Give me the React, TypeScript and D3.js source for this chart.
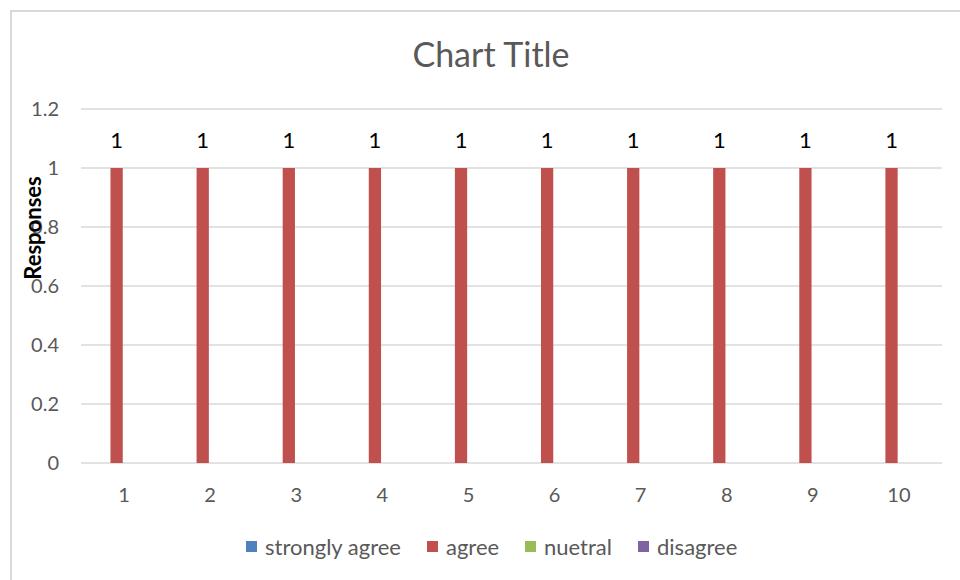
import { useRef, useEffect } from 'react';
import * as d3 from 'd3';

const categories = ['1', '2', '3', '4', '5', '6', '7', '8', '9', '10'];
const seriesNames = ['strongly agree', 'agree', 'nuetral', 'disagree'];
const seriesColors = ['#4f81bd', '#c0504d', '#9bbb59', '#8064a2'];
const stronglyAgree = [0, 0, 0, 0, 0, 0, 0, 0, 0, 0];
const agree = [1, 1, 1, 1, 1, 1, 1, 1, 1, 1];
const nuetral = [0, 0, 0, 0, 0, 0, 0, 0, 0, 0];
const disagree = [0, 0, 0, 0, 0, 0, 0, 0, 0, 0];
const yTicks = [0, 0.2, 0.4, 0.6, 0.8, 1, 1.2];

const FONT = 'Lato, "Open Sans", sans-serif';

function App() {
    const ref = useRef<SVGSVGElement>(null);

    useEffect(() => {
        const svg = d3.select(ref.current);
        svg.selectAll('*').remove();

        const values = [stronglyAgree, agree, nuetral, disagree];
        const left = 81, right = 942, top = 109, bottom = 463;

        // chart border
        svg.append('path')
            .attr('d', 'M11,585 L11,11 L965,11')
            .attr('fill', 'none')
            .attr('stroke', '#d9d9d9')
            .attr('stroke-width', 2);

        const x0 = d3.scaleBand().domain(categories).range([left, right]);
        const gap = x0.bandwidth() * 0.43;
        const x1 = d3.scaleBand<number>()
            .domain(d3.range(seriesNames.length))
            .range([gap / 2 - 1.3, x0.bandwidth() - gap / 2 - 1.3]);
        const y = d3.scaleLinear().domain([0, 1.2]).range([bottom, top]);

        // gridlines
        svg.append('g').selectAll('line')
            .data(yTicks)
            .enter().append('line')
            .attr('x1', left).attr('x2', right)
            .attr('y1', d => y(d)).attr('y2', d => y(d))
            .attr('stroke', '#d9d9d9')
            .attr('stroke-width', 1.3);

        // y tick labels
        svg.append('g').selectAll('text')
            .data(yTicks)
            .enter().append('text')
            .attr('x', 59)
            .attr('y', d => y(d))
            .attr('dy', '0.35em')
            .attr('text-anchor', 'end')
            .attr('font-family', FONT)
            .attr('font-size', 20)
            .attr('fill', '#595959')
            .text(d => d3.format('')(d));

        // x tick labels
        svg.append('g').selectAll('text')
            .data(categories)
            .enter().append('text')
            .attr('x', d => x0(d)! + x0.bandwidth() / 2)
            .attr('y', 502)
            .attr('text-anchor', 'middle')
            .attr('font-family', FONT)
            .attr('font-size', 20)
            .attr('fill', '#595959')
            .text(d => d);

        // bars
        values.forEach((vals, s) => {
            const g = svg.append('g');
            g.selectAll('rect')
                .data(vals)
                .enter().append('rect')
                .attr('x', (d, i) => x0(categories[i])! + x1(s)!)
                .attr('y', d => y(d))
                .attr('width', x1.bandwidth())
                .attr('height', d => bottom - y(d))
                .attr('fill', seriesColors[s]);
            g.selectAll('text')
                .data(vals.map((v, i) => ({ v, i })).filter(d => d.v > 0))
                .enter().append('text')
                .attr('x', d => x0(categories[d.i])! + x1(s)! + x1.bandwidth() / 2)
                .attr('y', d => y(d.v) - 20)
                .attr('text-anchor', 'middle')
                .attr('font-family', FONT)
                .attr('font-size', 22)
                .attr('fill', '#000')
                .text(d => d.v);
        });

        // title
        svg.append('text')
            .attr('x', 491)
            .attr('y', 67)
            .attr('text-anchor', 'middle')
            .attr('font-family', FONT)
            .attr('font-size', 34)
            .attr('fill', '#595959')
            .text('Chart Title');

        // y axis title
        svg.append('text')
            .attr('transform', 'translate(41,228) rotate(-90)')
            .attr('text-anchor', 'middle')
            .attr('font-family', FONT)
            .attr('font-weight', 'bold')
            .attr('font-size', 22)
            .attr('fill', '#000')
            .text('Responses');

        // legend
        const legendX = [246, 427, 525, 638];
        const legend = svg.append('g').selectAll('g')
            .data(seriesNames)
            .enter().append('g')
            .attr('transform', (d, i) => `translate(${legendX[i]},541)`);
        legend.append('rect')
            .attr('width', 11).attr('height', 11)
            .attr('fill', (d, i) => seriesColors[i]);
        legend.append('text')
            .attr('x', 19)
            .attr('y', 6)
            .attr('dy', '0.35em')
            .attr('font-family', FONT)
            .attr('font-size', 22)
            .attr('fill', '#595959')
            .text(d => d);
    }, []);

    return <svg ref={ref} width={960} height={580} style={{ position: 'absolute', left: 0, top: 0 }} />;
}

export default App;
